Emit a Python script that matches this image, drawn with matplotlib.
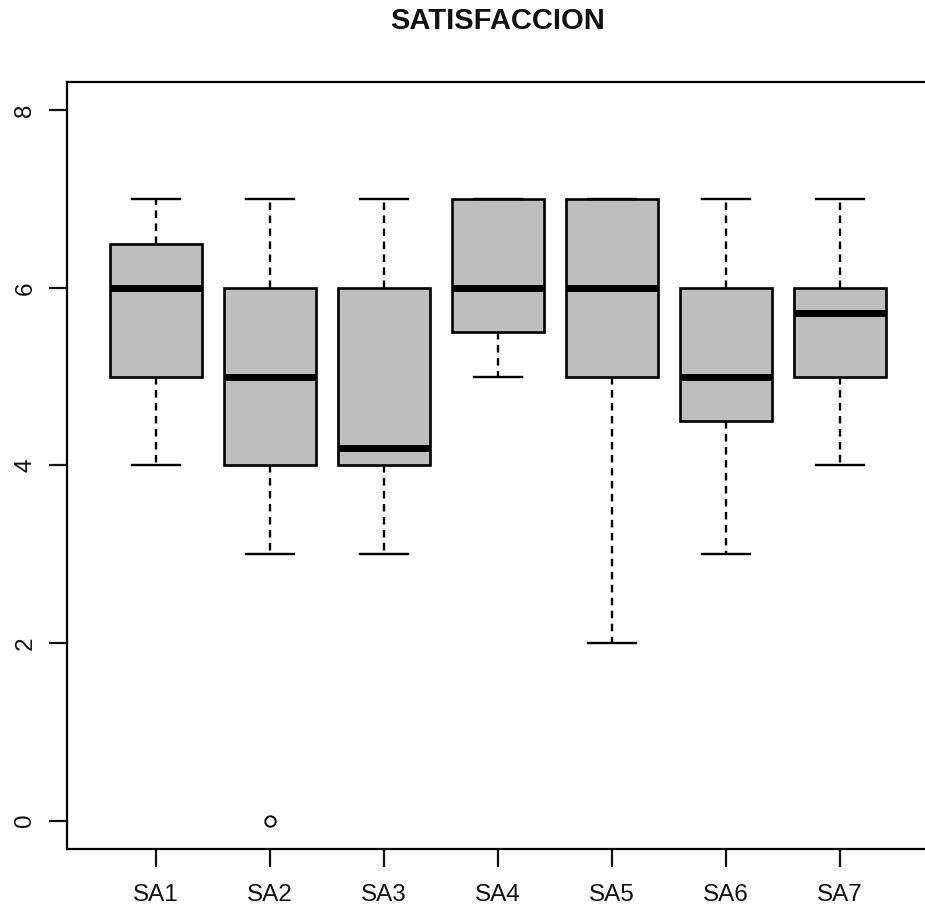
import matplotlib
matplotlib.use("Agg")
import matplotlib.pyplot as plt

plt.rcParams['font.family'] = ['Liberation Sans', 'DejaVu Sans']

# boxplot values
labels  = ["SA1", "SA2", "SA3", "SA4", "SA5", "SA6", "SA7"]
whislo  = [4, 3, 3, 5, 2, 3, 4]
q1      = [5, 4, 4, 5.5, 5, 4.5, 5]
med     = [6, 5, 4.2, 6, 6, 5, 5.72]
q3      = [6.5, 6, 6, 7, 7, 6, 6]
whishi  = [7, 7, 7, 7, 7, 7, 7]
fliers  = [[], [0], [], [], [], [], []]
yticks  = [0, 2, 4, 6, 8]

stats = []
for i in range(len(labels)):
    stats.append({"label": labels[i], "whislo": whislo[i], "q1": q1[i], "med": med[i],
                  "q3": q3[i], "whishi": whishi[i], "fliers": fliers[i]})

fig = plt.figure(figsize=(9.25, 9.13), dpi=100)
ax = fig.add_axes([0.0724, 0.0701, 0.9319, 0.8401])

ax.bxp(stats, positions=range(1, len(labels) + 1), widths=0.8, patch_artist=True,
       boxprops=dict(facecolor="#BEBEBE", edgecolor="black", linewidth=1.9),
       medianprops=dict(color="black", linewidth=5, solid_capstyle="butt"),
       whiskerprops=dict(color="black", linewidth=1.7, linestyle=(0, (3.2, 2.3))),
       capprops=dict(color="black", linewidth=1.7),
       capwidths=0.42,
       flierprops=dict(marker="o", markersize=7.5, markerfacecolor="none",
                       markeredgecolor="black", markeredgewidth=1.4))

ax.set_xlim(0.22, 7.78)
ax.set_ylim(-0.32, 8.32)
ax.set_yticks(yticks)
ax.set_yticklabels([str(v) for v in yticks], rotation=90, va="center")
ax.set_xticks(range(1, len(labels) + 1))
ax.set_xticklabels(labels)

for sp in ax.spines.values():
    sp.set_linewidth(1.6)
ax.tick_params(axis="both", length=13, width=1.6, labelsize=17.5, colors="#111111")
ax.tick_params(axis="x", pad=12.5)
ax.tick_params(axis="y", pad=9)

fig.text(0.538, 0.9775, "SATISFACCION", ha="center", va="center",
         fontsize=21, fontweight="bold", color="#111111")

fig.savefig("out.png", dpi=100)
